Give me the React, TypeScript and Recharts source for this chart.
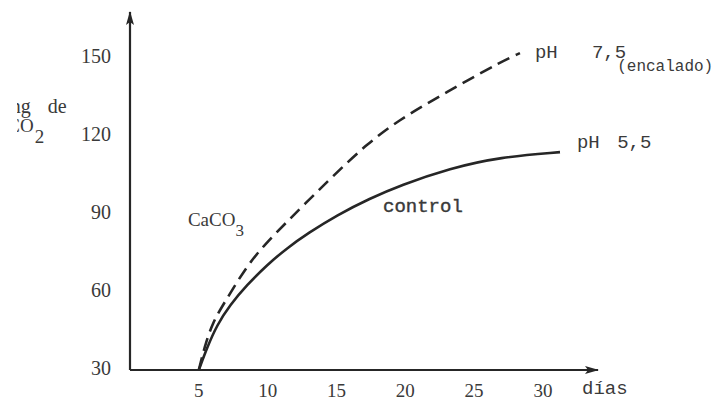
import React from 'react';
import { LineChart, Line, XAxis, YAxis, ReferenceDot } from 'recharts';

// días (x) and mg de CO2 (y)
const controlDays = [5, 5.59, 6.32, 7.26, 8.5, 9.95, 11.41, 12.93, 15.04, 17.44, 19.62, 23.25, 26.88, 31.24];
const controlCO2 = [30, 38.5, 47.3, 55.0, 62.7, 70.4, 76.9, 82.6, 89.6, 96.0, 101.0, 107.6, 111.9, 113.8];
const limedDays = [5, 5.45, 6.03, 6.76, 7.77, 8.72, 9.95, 11.41, 12.57, 14.75, 17.22, 19.62, 22.01, 24.48, 26.88, 28.33];
const limedCO2 = [30, 39.6, 48.5, 55.0, 63.8, 71.5, 79.2, 87.0, 93.2, 104.6, 117.0, 126.4, 133.8, 141.3, 148.3, 151.9];
const xTicks = [5, 10, 15, 20, 25, 30];
const yTicks = [30, 60, 90, 120, 150];

const controlData = controlDays.map((x, i) => ({ x, y: controlCO2[i] }));
const limedData = limedDays.map((x, i) => ({ x, y: limedCO2[i] }));

const INK = '#262626';
const TXT = '#3a3a3a';
const MONO = '"Liberation Mono", "DejaVu Sans Mono", monospace';
const SERIF = '"Liberation Serif", "DejaVu Serif", serif';

type AnnoProps = { viewBox?: any };

const mk = (render: (x: number, y: number) => React.ReactElement) => (p: AnnoProps) => {
  const vb = p.viewBox || { x: 0, y: 0 };
  return render(vb.x, vb.y);
};

const labelPH75 = mk((x, y) => (
  <text x={x} y={y} fill={TXT} fontFamily={MONO} fontSize={19} dominantBaseline="middle" style={{ whiteSpace: 'pre' }}>
    {'pH   7,5'}
    <tspan dx={-9} dy={14} fontSize={16}>(encalado)</tspan>
  </text>
));
const labelPH55 = mk((x, y) => (
  <text x={x} y={y} fill={TXT} fontFamily={MONO} fontSize={19} dominantBaseline="middle" style={{ whiteSpace: 'pre' }}>
    pH<tspan dx={6}>{' 5,5'}</tspan>
  </text>
));
const labelControl = mk((x, y) => (
  <text x={x} y={y} fill={TXT} stroke={TXT} strokeWidth={0.4} fontFamily={MONO} fontSize={19} dominantBaseline="middle">control</text>
));
const labelCaCO3 = mk((x, y) => (
  <text x={x} y={y} fill={TXT} fontFamily={SERIF} fontSize={19} dominantBaseline="middle">
    CaCO<tspan dy={10} fontSize={17}>3</tspan>
  </text>
));
const labelDias = mk((x, y) => (
  <text x={x} y={y} fill={TXT} fontFamily={MONO} fontSize={19} dominantBaseline="middle">días</text>
));
const labelMg = mk((x, y) => (
  <text x={x} y={y} fill={TXT} fontFamily={SERIF} fontSize={20} dominantBaseline="middle" clipPath="url(#yLabelClip)">
    mg<tspan dx={17}>de</tspan>
  </text>
));
const labelCO2 = mk((x, y) => (
  <text x={x} y={y} fill={TXT} fontFamily={SERIF} fontSize={19} dominantBaseline="middle" clipPath="url(#yLabelClip)">
    CO<tspan dx={1} dy={11} fontSize={19}>2</tspan>
  </text>
));

export default function App() {
  return (
    <div style={{ position: 'absolute', left: 0, top: 0, width: 724, height: 400, background: '#fff' }}>
      <LineChart width={724} height={400} margin={{ top: 12, right: 126, bottom: 0, left: 0 }}>
        <defs>
          <marker id="arrowHead" viewBox="0 0 14 8" refX={13} refY={4} markerWidth={14} markerHeight={8}
            markerUnits="userSpaceOnUse" orient="auto-start-reverse">
            <path d="M0,0 L14,4 L0,8 L3,4 z" fill={INK} />
          </marker>
          <clipPath id="yLabelClip">
            <rect x={17} y={0} width={110} height={400} />
          </clipPath>
        </defs>
        <XAxis
          type="number"
          dataKey="x"
          domain={[0, 34]}
          ticks={xTicks}
          allowDataOverflow
          height={30}
          tickSize={0}
          tickMargin={14}
          tickLine={false}
          axisLine={{ stroke: INK, strokeWidth: 2.2, markerEnd: 'url(#arrowHead)' }}
          tick={{ fill: TXT, fontFamily: SERIF, fontSize: 19 }}
        />
        <YAxis
          type="number"
          dataKey="y"
          domain={[30, 167.7]}
          ticks={yTicks}
          allowDataOverflow
          width={130}
          tickSize={0}
          tickMargin={19}
          tickLine={false}
          axisLine={{ stroke: INK, strokeWidth: 2.2, markerStart: 'url(#arrowHead)' }}
          tick={{ fill: TXT, fontFamily: SERIF, fontSize: 20, dy: -2 }}
        />
        <Line data={limedData} dataKey="y" type="basis" stroke={INK} strokeWidth={2.6}
          strokeDasharray="13 7" dot={false} activeDot={false} isAnimationActive={false} />
        <Line data={controlData} dataKey="y" type="basis" stroke={INK} strokeWidth={2.6}
          dot={false} activeDot={false} isAnimationActive={false} />
        <ReferenceDot x={29.42} y={151.9} r={0} ifOverflow="visible" label={labelPH75} />
        <ReferenceDot x={32.47} y={117.3} r={0} ifOverflow="visible" label={labelPH55} />
        <ReferenceDot x={18.38} y={92.7} r={0} ifOverflow="visible" label={labelControl} />
        <ReferenceDot x={4.21} y={86.9} r={0} ifOverflow="visible" label={labelCaCO3} />
        <ReferenceDot x={32.84} y={22.8} r={0} ifOverflow="visible" label={labelDias} />
        <ReferenceDot x={-9.07} y={130.8} r={0} ifOverflow="visible" label={labelMg} />
        <ReferenceDot x={-8.91} y={123.1} r={0} ifOverflow="visible" label={labelCO2} />
      </LineChart>
    </div>
  );
}
